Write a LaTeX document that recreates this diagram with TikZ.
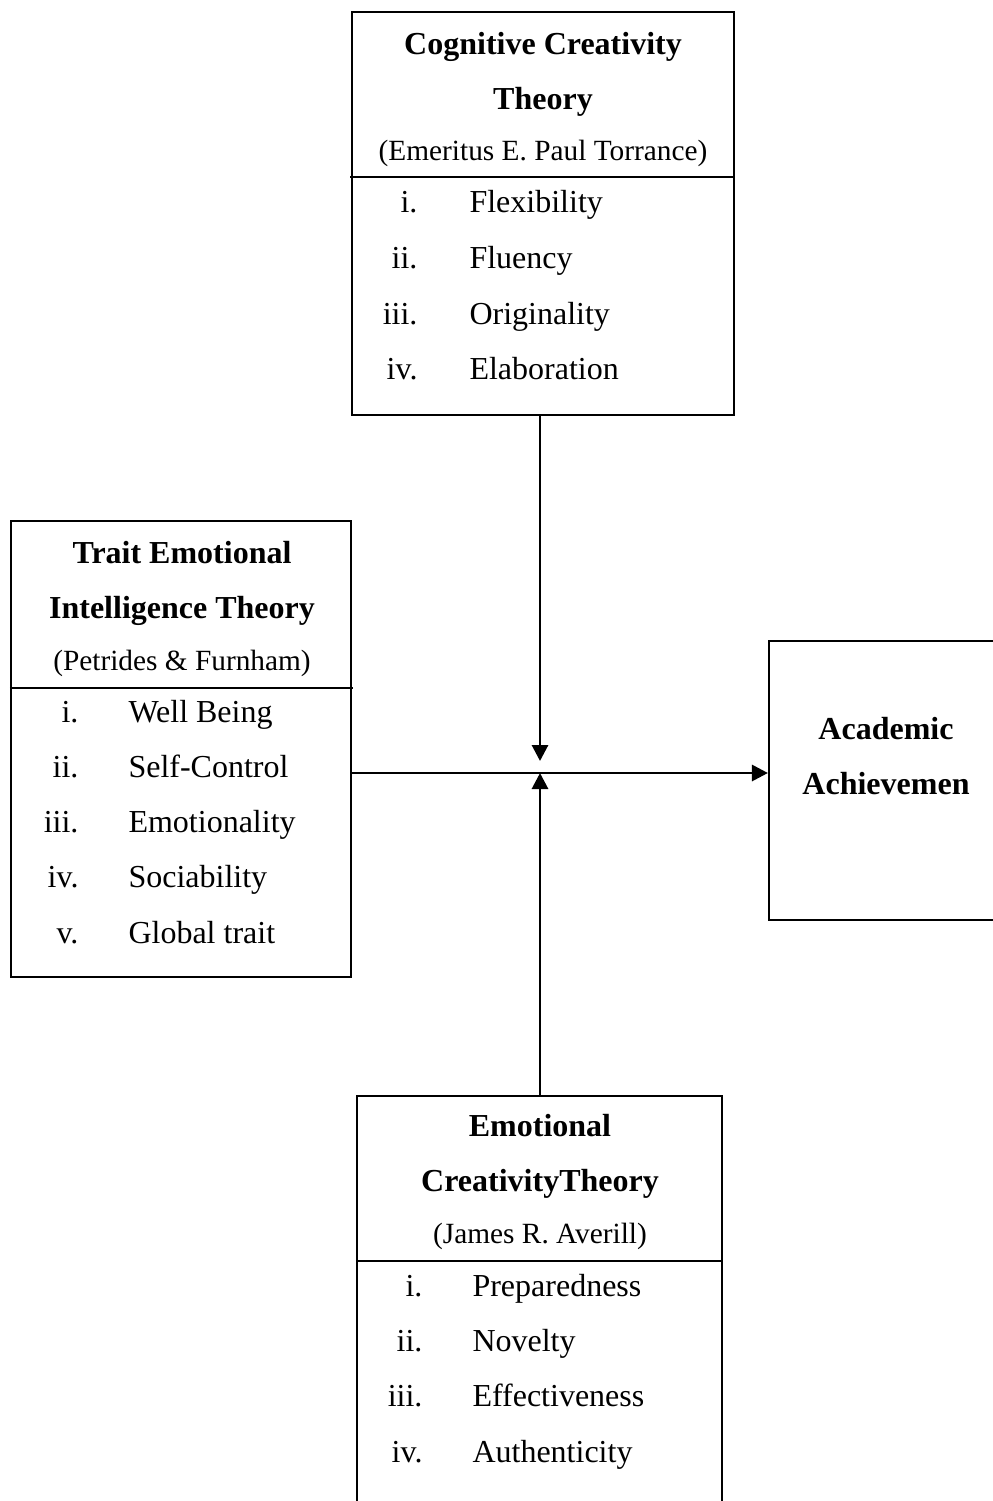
\documentclass[tikz,border=0pt]{standalone}
\usepackage{fontspec}
\setmainfont{Liberation Serif}
\usetikzlibrary{arrows.meta,fit}
\tikzset{
  box/.style={draw,line width=0.8pt,inner sep=0pt},
  head/.style={font=\fontsize{12}{14}\selectfont\bfseries,anchor=base,inner sep=0pt},
  who/.style={font=\fontsize{11}{13}\selectfont,anchor=base,inner sep=0pt},
  num/.style={font=\fontsize{12}{14}\selectfont,anchor=base east,inner sep=0pt},
  item/.style={font=\fontsize{12}{14}\selectfont,anchor=base west,inner sep=0pt},
  link/.style={line width=1.1pt,-{Triangle[length=6pt,width=6pt]}}
}
\begin{document}
\begin{tikzpicture}[x=0.375pt,y=-0.375pt]
\useasboundingbox (0,0) rectangle (993,1501);
% top box
\node[box,fit={(352,12) (734,415)}] (cct) {};
\draw[line width=0.8pt] (350,177) -- (cct.east |- 0,177);
\node[head] (cct-t1) at (543,55) {Cognitive Creativity};
\node[head] (cct-t2) at (543,110) {Theory};
\node[who] (cct-w) at (543,161) {(Emeritus E. Paul Torrance)};
\foreach \n/\t [count=\k] in {i./Flexibility,ii./Fluency,iii./Originality,iv./Elaboration}{
  \node[num] (cct-n\k) at (418,{213+55.6*(\k-1)}) {\n};
  \node[item] (cct-i\k) at (469,{213+55.6*(\k-1)}) {\t};
}
% left box
\node[box,fit={(11,521) (351,977)}] (tei) {};
\draw[line width=0.8pt] (tei.west |- 0,688) -- (353,688);
\node[head] (tei-t1) at (182,563) {Trait Emotional};
\node[head] (tei-t2) at (182,618) {Intelligence Theory};
\node[who] (tei-w) at (182,670) {(Petrides \& Furnham)};
\foreach \n/\t [count=\k] in {i./Well Being,ii./Self-Control,iii./Emotionality,iv./Sociability,v./Global trait}{
  \node[num] (tei-n\k) at (79,{722+55.3*(\k-1)}) {\n};
  \node[item] (tei-i\k) at (128,{722+55.3*(\k-1)}) {\t};
}
% right box
\node[box,fit={(769,641) (1003,920)}] (aa) {};
\node[head] (aa-t1) at (886,739) {Academic};
\node[head] (aa-t2) at (886,794) {Achievemen};
% bottom box
\node[box,fit={(357,1096) (722,1530)}] (ect) {};
\draw[line width=0.8pt] (ect.west |- 0,1261) -- (ect.east |- 0,1261);
\node[head] (ect-t1) at (540,1136) {Emotional};
\node[head] (ect-t2) at (540,1191) {CreativityTheory};
\node[who] (ect-w) at (540,1243) {(James R. Averill)};
\foreach \n/\t [count=\k] in {i./Preparedness,ii./Novelty,iii./Effectiveness,iv./Authenticity}{
  \node[num] (ect-n\k) at (423,{1296+55.4*(\k-1)}) {\n};
  \node[item] (ect-i\k) at (472,{1296+55.4*(\k-1)}) {\t};
}
% connectors
\coordinate (hub) at (540,773);
\draw[link,shorten >=4.5pt] (cct.south -| hub) -- (hub);
\draw[link] (ect.north -| hub) -- (hub);
\draw[link] (tei.east |- hub) -- (aa.west |- hub);
\end{tikzpicture}
\end{document}
